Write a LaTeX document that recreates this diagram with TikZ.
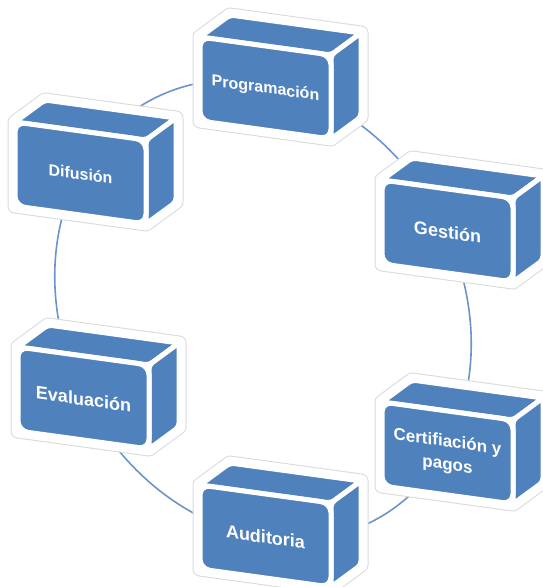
\documentclass[tikz,border=0pt]{standalone}
\usepackage{fontspec}
\setmainfont{Liberation Sans}
\definecolor{azul}{RGB}{79,129,189}
\definecolor{anillo}{RGB}{108,148,204}
\begin{document}
\begin{tikzpicture}[x=1pt,y=-1pt,line join=round,line cap=round,
		cara/.style={fill=azul,draw=white,line width=5pt},
		texto/.style={text=white,align=center,yslant=-.14}]
			\useasboundingbox (0,0) rectangle (542,587);
			\coordinate (O) at (263,310);
			\draw[anillo,line width=1.6pt,rotate around={-62:(O)}] (O) ellipse (238 and 199);
			\foreach \x/\y/\n/\t/\s in {200/37/prog/Programación/16,15/122/difu/Difusión/16,382/180/gest/Gestión/18,18/347/eval/Evaluación/18,382/402/cert/{Certifiación y\\pagos}/17,200/485/audi/Auditoria/18}{
				\begin{scope}[shift={(\x,\y)}]
					\draw[gray!30,fill=white,line width=15pt] (0,84)--(0,0)--(30,-22)--(161,-4)--(161,80)--(131,102)--cycle;
					\draw[white,line width=13pt] (0,84)--(0,0)--(30,-22)--(161,-4)--(161,80)--(131,102)--cycle;
					\draw[cara,rounded corners=4pt] (0,0)--(30,-22)--(161,-4)--(131,18)--cycle;
					\draw[cara,rounded corners=4pt] (131,18)--(161,-4)--(161,80)--(131,102)--cycle;
					\draw[cara,rounded corners=10pt] (0,0)--(131,18)--(131,102)--(0,84)--cycle;
					\node[texto,font=\bfseries\fontsize{\s}{23}\selectfont] (\n) at (65.5,52) {\t};
				\end{scope}
			}
\end{tikzpicture}
\end{document}
